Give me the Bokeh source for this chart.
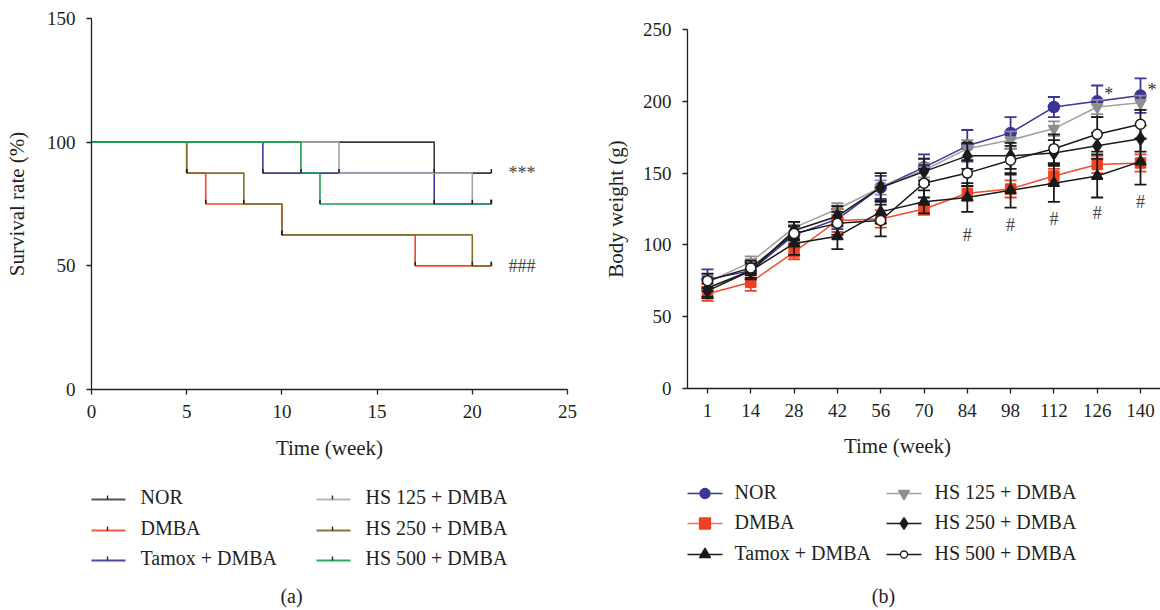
from bokeh.plotting import figure
from bokeh.layouts import row, column
from bokeh.models import Range1d, FixedTicker
from bokeh.embed import file_html
from bokeh.resources import INLINE
from bokeh.core.properties import value

FONT = "Liberation Serif"
TXT = "#231f20"

# ---------------- data: panel (a) survival ----------------
groups = ["NOR", "DMBA", "Tamox + DMBA", "HS 125 + DMBA", "HS 250 + DMBA", "HS 500 + DMBA"]

t_nor = [0, 18, 21]
s_nor = [100, 87.5, 87.5]
t_dmba = [0, 5, 6, 10, 17, 21]
s_dmba = [100, 87.5, 75, 62.5, 50, 50]
t_tamox = [0, 9, 18, 21]
s_tamox = [100, 87.5, 75, 75]
t_hs125 = [0, 13, 20, 21]
s_hs125 = [100, 87.5, 75, 75]
t_hs250 = [0, 5, 8, 10, 20, 21]
s_hs250 = [100, 87.5, 75, 62.5, 50, 50]
t_hs500 = [0, 11, 12, 21]
s_hs500 = [100, 87.5, 75, 75]

surv_notes = ["***", "###"]
surv_note_x = [21.9, 21.9]
surv_note_y = [87.5, 50]

# ---------------- data: panel (b) body weight ----------------
weeks = [1, 14, 28, 42, 56, 70, 84, 98, 112, 126, 140]

bw_nor = [76, 82, 107, 118, 140, 154, 169, 178, 196, 200, 204]
bw_dmba = [66, 74, 95, 117, 118, 125, 136, 139, 148, 156, 157]
bw_tamox = [70, 82, 101, 106, 123, 130, 133, 138, 143, 148, 158]
bw_hs125 = [74, 88, 112, 125, 140, 152, 167, 173, 181, 196, 199]
bw_hs250 = [68, 82, 110, 120, 140, 151, 162, 162, 164, 169, 174]
bw_hs500 = [75, 84, 108, 115, 117, 143, 150, 159, 167, 177, 184]

err_nor = [7, 6, 6, 7, 8, 9, 11, 11, 7, 11, 12]
err_dmba = [5, 6, 5, 8, 6, 4, 5, 6, 5, 6, 6]
err_tamox = [6, 6, 8, 9, 8, 8, 10, 12, 13, 15, 16]
err_hs125 = [5, 4, 4, 4, 5, 5, 6, 6, 5, 5, 5]
err_hs250 = [5, 5, 6, 7, 10, 9, 9, 9, 9, 9, 9]
err_hs500 = [5, 5, 5, 8, 11, 10, 9, 10, 10, 12, 10]

hash_idx = [6, 7, 8, 9, 10]
hash_y = [107, 114, 118, 122, 130]
star_idx = [9, 10]
star_y = [205, 208]


def style_axes(p):
    for ax in p.axis:
        ax.axis_line_color = TXT
        ax.axis_line_width = 1.3
        ax.major_tick_line_color = TXT
        ax.major_tick_line_width = 1.3
        ax.major_tick_out = 5
        ax.major_tick_in = 0
        ax.minor_tick_line_color = None
        ax.major_label_text_font = FONT
        ax.major_label_text_font_size = "19px"
        ax.major_label_text_color = TXT
        ax.axis_label_text_font = FONT
        ax.axis_label_text_font_size = "21px"
        ax.axis_label_text_font_style = "normal"
        ax.axis_label_text_color = TXT
    p.grid.visible = False
    p.outline_line_color = None
    p.background_fill_color = None
    p.border_fill_color = None


# ---------------- panel (a) ----------------
pa = figure(width=600, height=432, x_range=Range1d(0, 25), y_range=Range1d(0, 150),
            min_border_left=91, min_border_right=33, min_border_top=18, min_border_bottom=43,
            frame_align=False, output_backend="svg", toolbar_location=None)
style_axes(pa)
pa.xaxis.ticker = FixedTicker(ticks=[0, 5, 10, 15, 20, 25])
pa.yaxis.ticker = FixedTicker(ticks=[0, 50, 100, 150])
pa.yaxis.axis_label = "Survival rate (%)"
pa.xaxis.major_label_standoff = 10
pa.yaxis.major_label_standoff = 11
pa.yaxis.axis_label_standoff = 15

surv_t = [t_nor, t_dmba, t_tamox, t_hs125, t_hs250, t_hs500]
surv_s = [s_nor, s_dmba, s_tamox, s_hs125, s_hs250, s_hs500]
surv_colors = ["#3a3a3a", "#f04a2a", "#3c3c9c", "#a3a3a3", "#84702c", "#1f9a52"]
surv_leg_colors = ["#555555", "#f05a3a", "#4a4aa8", "#b8b8b8", "#8a7634", "#2aaa60"]

for t, s, c in zip(surv_t, surv_s, surv_colors):
    pa.step(t, s, mode="after", line_color=c, line_width=1.6)
for t, s in zip(surv_t, surv_s):
    pa.segment(x0=t[1:], y0=s[1:], x1=t[1:], y1=[v + 1.7 for v in s[1:]],
               line_color=TXT, line_width=1.5)
pa.text(x=surv_note_x, y=surv_note_y, text=surv_notes, text_font=value(FONT),
        text_font_size="18px", text_color="#444444", text_align="left", text_baseline="middle")

# ---------------- panel (b) ----------------
pb = figure(width=560, height=432, x_range=Range1d(-0.462, 10.462), y_range=Range1d(0, 250),
            min_border_left=87, min_border_right=0, min_border_top=29, min_border_bottom=44,
            frame_align=False, output_backend="svg", toolbar_location=None)
style_axes(pb)
pb.xaxis.ticker = FixedTicker(ticks=list(range(len(weeks))))
pb.xaxis.major_label_overrides = {i: str(w) for i, w in enumerate(weeks)}
pb.yaxis.ticker = FixedTicker(ticks=[0, 50, 100, 150, 200, 250])
pb.yaxis.axis_label = "Body weight (g)"
pb.xaxis.major_label_standoff = 10
pb.yaxis.major_label_standoff = 11
pb.yaxis.axis_label_standoff = 12

xs = list(range(len(weeks)))
bw_series = [bw_nor, bw_dmba, bw_tamox, bw_hs125, bw_hs250, bw_hs500]
bw_err = [err_nor, err_dmba, err_tamox, err_hs125, err_hs250, err_hs500]
bw_line = ["#3a3597", "#f04a2a", "#1a1a1a", "#a0a0a0", "#1a1a1a", "#1a1a1a"]
bw_mark = ["#3a3597", "#ef4123", "#1a1a1a", "#8e8e8e", "#1a1a1a", "#1a1a1a"]
bw_fill = ["#3a3597", "#ef4123", "#1a1a1a", "#8e8e8e", "#1a1a1a", "white"]
bw_marker = ["circle", "square", "triangle", "inverted_triangle", "diamond", "circle"]
bw_size = [11, 10, 11, 11, 13, 10]

for ys, es, lc, mc, fc, mk, sz in zip(bw_series, bw_err, bw_line, bw_mark, bw_fill, bw_marker, bw_size):
    lo = [y - e for y, e in zip(ys, es)]
    hi = [y + e for y, e in zip(ys, es)]
    pb.segment(x0=xs, y0=lo, x1=xs, y1=hi, line_color=mc, line_width=1.8)
    pb.scatter(x=xs + xs, y=lo + hi, marker="dash", size=12, line_color=mc, line_width=1.8)
    pb.line(xs, ys, line_color=lc, line_width=1.5)
    pb.scatter(x=xs, y=ys, marker=mk, size=sz, line_color=mc, fill_color=fc, line_width=1.5)

pb.text(x=hash_idx, y=hash_y, text=["#"] * len(hash_idx), text_font=value(FONT),
        text_font_size="18px", text_color="#444444", text_align="center", text_baseline="middle")
pb.text(x=star_idx, y=star_y, text=["*"] * len(star_idx), text_font=value(FONT),
        text_font_size="18px", text_color="#333333", text_align="left", text_baseline="middle",
        x_offset=7)

# ---------------- lower area: x labels, legends, captions (page pixel coordinates) ----------------
def legend_fig(width, x0, x1):
    f = figure(width=width, height=178, x_range=Range1d(x0, x1), y_range=Range1d(610, 432),
               min_border=0, x_axis_type=None, y_axis_type=None, frame_align=False,
               output_backend="svg", toolbar_location=None)
    f.grid.visible = False
    f.outline_line_color = None
    f.background_fill_color = None
    f.border_fill_color = None
    return f

la = legend_fig(600, 0, 600)
la.text(x=[329], y=[447], text=["Time (week)"], text_font=value(FONT), text_font_size="21px",
        text_color=TXT, text_align="center", text_baseline="middle")
rows_a = [499, 530, 560]
cols_a = [91, 316]
text_a = [140, 365]
for i, (g, c) in enumerate(zip(groups, surv_leg_colors)):
    col, r = divmod(i, 3)
    y = rows_a[r]
    la.segment(x0=[cols_a[col]], y0=[y], x1=[cols_a[col] + 34], y1=[y], line_color=c, line_width=2)
    la.segment(x0=[cols_a[col] + 16], y0=[y], x1=[cols_a[col] + 16], y1=[y - 4], line_color=TXT, line_width=1.3)
    la.text(x=[text_a[col]], y=[y - 3], text=[g], text_font=value(FONT), text_font_size="20px",
            text_color=TXT, text_align="left", text_baseline="middle")
la.text(x=[291], y=[595], text=["(a)"], text_font=value(FONT), text_font_size="20px",
        text_color=TXT, text_align="center", text_baseline="middle")

lb = legend_fig(560, 600, 1160)
lb.text(x=[897], y=[445], text=["Time (week)"], text_font=value(FONT), text_font_size="21px",
        text_color=TXT, text_align="center", text_baseline="middle")
rows_b = [493, 523, 554]
cols_b = [687, 886]
text_b = [734, 934]
leg_size = [10, 11, 11, 11, 12, 7]
leg_line = ["#3a3597", "#f47058", "#1a1a1a", "#a0a0a0", "#1a1a1a", "#1a1a1a"]
for i, g in enumerate(groups):
    col, r = divmod(i, 3)
    y = rows_b[r]
    lb.segment(x0=[cols_b[col]], y0=[y], x1=[cols_b[col] + 35], y1=[y], line_color=leg_line[i], line_width=1.6)
    lb.scatter(x=[cols_b[col] + 17.5], y=[y], marker=bw_marker[i], size=leg_size[i],
               line_color=bw_mark[i], fill_color=bw_fill[i], line_width=1.3)
    lb.text(x=[text_b[col]], y=[y - 2], text=[g], text_font=value(FONT), text_font_size="20px",
            text_color=TXT, text_align="left", text_baseline="middle")
lb.text(x=[883], y=[595], text=["(b)"], text_font=value(FONT), text_font_size="20px",
        text_color=TXT, text_align="center", text_baseline="middle")

layout = row(column(pa, la), column(pb, lb))
open("out.html", "w").write(file_html(layout, INLINE))
